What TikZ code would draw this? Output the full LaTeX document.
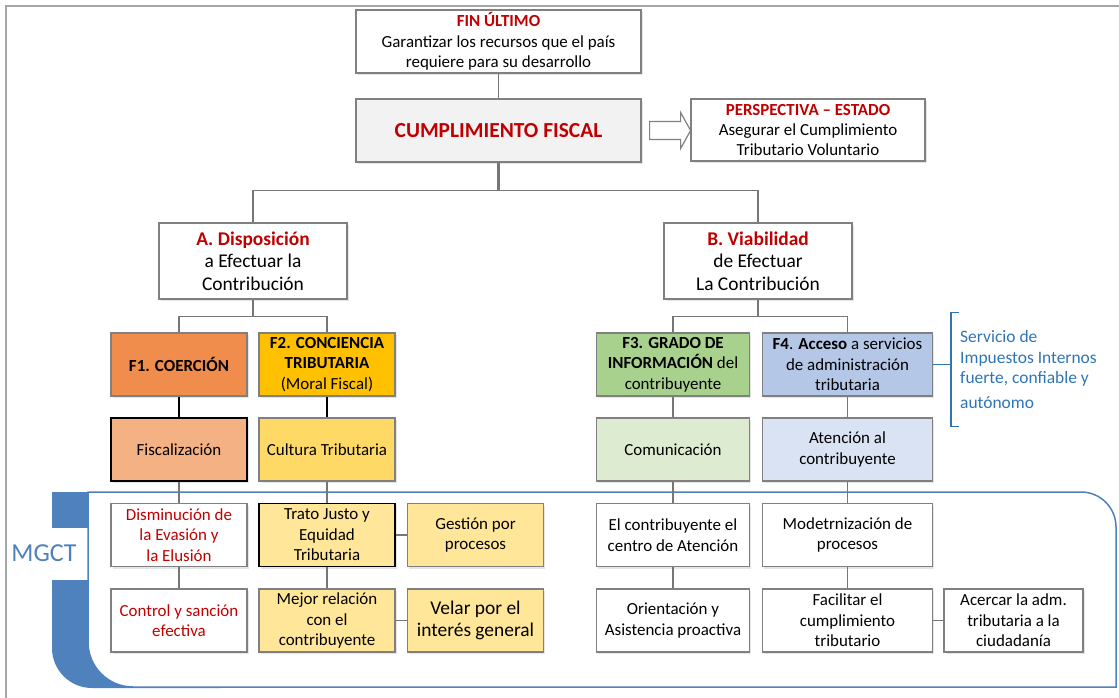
\documentclass[tikz,border=0pt]{standalone}
\usepackage{fontspec}
\setmainfont{Carlito}
\usepackage{tikz}
\usetikzlibrary{shapes,shadows,calc}
\definecolor{rojo}{RGB}{192,0,0}
\definecolor{boxgray}{RGB}{128,128,128}
\definecolor{linegray}{RGB}{118,118,118}
\definecolor{framegray}{RGB}{166,166,166}
\definecolor{cfgray}{RGB}{242,242,242}
\definecolor{coerc}{RGB}{240,140,76}
\definecolor{concie}{RGB}{255,192,0}
\definecolor{fiscal}{RGB}{244,177,131}
\definecolor{cultura}{RGB}{255,217,102}
\definecolor{moral}{RGB}{255,230,153}
\definecolor{grado}{RGB}{169,209,142}
\definecolor{comun}{RGB}{221,236,208}
\definecolor{acceso}{RGB}{180,199,231}
\definecolor{atenc}{RGB}{218,227,243}
\definecolor{mgblue}{RGB}{79,129,189}
\definecolor{srvblue}{RGB}{46,117,182}

\begin{document}
\begin{tikzpicture}[
  box/.style={draw=boxgray,line width=1.2bp,fill=white,align=center,minimum height=63bp,inner sep=2bp,
    font=\fontsize{17}{20.5}\selectfont,
    drop shadow={shadow xshift=1.5bp,shadow yshift=-2bp,opacity=0.25,fill=black!40}},
  conn/.style={draw=linegray,line width=1.5bp},
  darkconn/.style={draw=black,line width=1.5bp},
]
\useasboundingbox (0,0) rectangle (1119bp,-698bp);
\clip (0,0) rectangle (1119bp,-698bp);
\draw[framegray,line width=2bp] (6bp,-6bp) rectangle (1140bp,-720bp);

\fill[mgblue] (52bp,-492bp) rectangle (88bp,-528bp);
\fill[mgblue] (52bp,-580bp) -- (52bp,-648bp) arc[start angle=180,end angle=270,radius=40bp] -- (220bp,-688bp) -- (220bp,-580bp) -- cycle;
\draw[mgblue,line width=1.5bp,fill=white] (88bp,-492bp) -- (1081bp,-492bp) arc[start angle=90,end angle=0,radius=35bp]
  -- (1116bp,-687bp) -- (133bp,-687bp) arc[start angle=270,end angle=180,radius=45bp] -- cycle;
\node (mgct) at (44bp,-553bp)[text=mgblue,font=\fontsize{26}{26}\selectfont] {MGCT};

\node (fin) at (498.5bp,-41.5bp)[box,minimum width=285bp] {\textcolor{rojo}{\textbf{FIN ÚLTIMO}}\\Garantizar\ los recursos que el país\\requiere para su desarrollo};
\node (cf) at (498.5bp,-130.5bp)[box,minimum width=285bp,fill=cfgray,text=rojo,font=\fontsize{21.5}{22}\selectfont\bfseries] {CUMPLIMIENTO FISCAL};
\node (persp) at (808bp,-130bp)[box,minimum width=234bp,minimum height=62bp,font=\fontsize{17}{20}\selectfont] {\textcolor{rojo}{\textbf{PERSPECTIVA -- ESTADO}}\\Asegurar el Cumplimiento\\Tributario Voluntario};

\node (A) at (253bp,-261bp)[box,minimum width=188bp,minimum height=76bp,font=\fontsize{19.5}{22.5}\selectfont] {\textcolor{rojo}{\textbf{A. Disposición}}\\a Efectuar la\\Contribución};
\node (B) at (758bp,-261bp)[box,minimum width=188bp,minimum height=76bp,font=\fontsize{19.5}{22.5}\selectfont] {\textcolor{rojo}{\textbf{B. Viabilidad}}\\de Efectuar\\La Contribución};

\node (F1) at (179bp,-364.5bp)[box,minimum width=136bp,fill=coerc] {\textbf{F1. COERCIÓN}};
\node (F2) at (327bp,-364.5bp)[box,minimum width=136bp,fill=concie] {\textbf{F2. CONCIENCIA}\\\textbf{TRIBUTARIA}\\(Moral Fiscal)};
\node (F3) at (673bp,-364.5bp)[box,minimum width=153bp,fill=grado] {\textbf{F3. GRADO DE}\\\textbf{INFORMACIÓN} del\\contribuyente};
\node (F4) at (847.5bp,-364.5bp)[box,minimum width=170bp,fill=acceso] {\textbf{F4}. \textbf{Acceso} a servicios\\de administración\\tributaria};

\node (fisc) at (179bp,-449.5bp)[box,minimum width=136bp,fill=fiscal,draw=black,line width=2bp] {Fiscalización};
\node (cult) at (327bp,-449.5bp)[box,minimum width=136bp,fill=cultura] {Cultura Tributaria};
\node (comun) at (673bp,-449.5bp)[box,minimum width=153bp,fill=comun] {Comunicación};
\node (atenc) at (847.5bp,-449.5bp)[box,minimum width=170bp,fill=atenc] {Atención al\\contribuyente};

\node (dism) at (179bp,-535bp)[box,minimum width=136bp,text=rojo] {Disminución de\\la Evasión y\\la Elusión};
\node (trato) at (327bp,-535bp)[box,minimum width=136bp,fill=moral,draw=black,line width=1.8bp] {Trato Justo y\\Equidad\\Tributaria};
\node (gest) at (475.5bp,-535bp)[box,minimum width=136bp,fill=moral] {Gestión por\\procesos};
\node (centro) at (673bp,-535bp)[box,minimum width=153bp] {El contribuyente el\\centro de Atención};
\node (modern) at (847.5bp,-535bp)[box,minimum width=170bp] {Modetrnización de\\procesos};

\node (ctrl) at (179bp,-620.5bp)[box,minimum width=136bp,text=rojo] {Control y sanción\\efectiva};
\node (mejor) at (327bp,-620.5bp)[box,minimum width=136bp,fill=moral] {Mejor relación\\con el\\contribuyente};
\node (velar) at (475.5bp,-620.5bp)[box,minimum width=136bp,fill=moral,font=\fontsize{19.5}{22}\selectfont] {Velar por el\\interés general};
\node (orient) at (673bp,-620.5bp)[box,minimum width=153bp] {Orientación y\\Asistencia proactiva};
\node (facil) at (847.5bp,-620.5bp)[box,minimum width=170bp] {Facilitar el\\cumplimiento\\tributario};
\node (acerc) at (1013.5bp,-620.5bp)[box,minimum width=139bp] {Acercar la adm.\\tributaria a la\\ciudadanía};

\node (srv) at (951bp,-369.5bp)[anchor=west,minimum height=113bp,inner xsep=9bp,align=left,text=srvblue,font=\fontsize{17.5}{21}\selectfont] {Servicio de\\Impuestos Internos\\fuerte, confiable y\\[4bp]autónomo};

\draw [conn] (fin) -- (cf);
\draw [draw=boxgray,line width=1.2bp,fill=white] (cf.east) ++(8bp,9bp) -- ++(31bp,0) -- ++(0,9bp) -- ++(10bp,-18bp) -- ++(-10bp,-18bp) -- ++(0,9bp) -- ++(-31bp,0) -- cycle;
\draw [conn,line width=2.5bp] (cf.south) -- ++(0,-28bp);
\draw [conn] (cf.south) ++(0,-28bp) -| (A.north);
\draw [conn] (cf.south) ++(0,-28bp) -| (B.north);
\draw [conn] (A.south) -- ++(0,-17bp) -| (F1.north);
\draw [conn] (A.south) -- ++(0,-17bp) -| (F2.north);
\draw [conn] (B.south) -- ++(0,-17bp) -| (F3.north);
\draw [conn] (B.south) -- ++(0,-17bp) -| (F4.north);
\draw [darkconn] (F1) -- (fisc);
\draw [darkconn] (F2) -- (cult);
\draw [conn] (F3) -- (comun);
\draw [conn] (F4) -- (atenc);
\draw [conn] (fisc) -- (dism);
\draw [conn] (cult) -- (trato);
\draw [conn] (comun) -- (centro);
\draw [conn] (atenc) -- (modern);
\draw [conn] (dism) -- (ctrl);
\draw [conn] (trato) -- (mejor);
\draw [conn] (centro) -- (orient);
\draw [conn] (modern) -- (facil);
\draw [conn] (trato) -- (gest);
\draw [conn] (mejor) -- (velar);
\draw [conn] (facil) -- (acerc);
\draw [srvblue,line width=1.2bp] (F4.east) -- (F4.east -| srv.west);
\draw [srvblue,line width=1.2bp] ([xshift=8bp]srv.north west) -- (srv.north west) -- (srv.south west) -- ([xshift=8bp]srv.south west);
\end{tikzpicture}
\end{document}
